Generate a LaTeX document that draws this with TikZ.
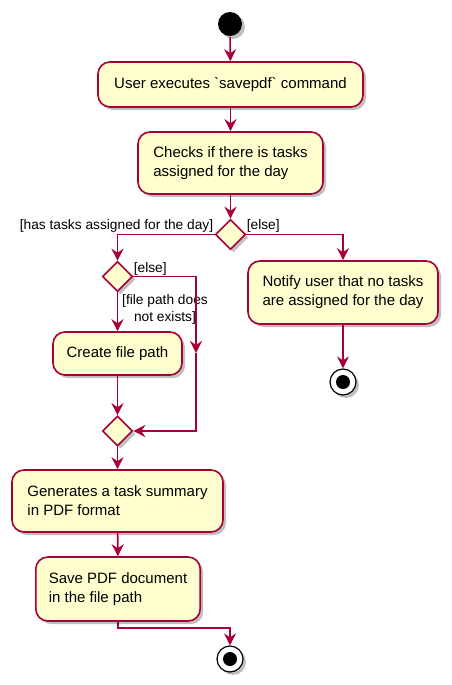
\documentclass[tikz,border=0pt]{standalone}
\usepackage{fontspec}
\setmainfont{Liberation Sans}
\newfontfamily\rawfont{Liberation Sans}
\usetikzlibrary{arrows.meta, shapes.geometric, shadows}
\definecolor{umlred}{HTML}{A80036}
\definecolor{umlfill}{HTML}{FEFECE}
\newcommand{\tick}{{\rawfont\char"60}}

\begin{document}
\begin{tikzpicture}[x=1pt, y=-1pt, line width=1.6pt,
    umlshadow/.style={drop shadow={shadow xshift=3pt, shadow yshift=-3pt, fill=black!50, opacity=0.5}},
    activity/.style={rectangle, rounded corners=12pt, draw=umlred, fill=umlfill,
        inner xsep=13pt, inner ysep=4pt, align=left, umlshadow,
        font=\fontsize{15}{19}\selectfont},
    choice/.style={diamond, aspect=1, draw=umlred, fill=umlfill, minimum width=30pt,
        minimum height=30pt, inner sep=0pt, umlshadow},
    finish/.style={circle, draw=black, fill=white, line width=1.2pt, minimum size=26pt,
        inner sep=0pt, umlshadow,
        path picture={\fill[black] (path picture bounding box.center) circle (7pt);}},
    guard/.style={inner sep=0pt, font=\fontsize{13.75}{17}\selectfont},
    flow/.style={draw=umlred, -{Stealth[length=12pt, width=12pt, inset=4pt]}}]
    \useasboundingbox (0,0) rectangle (451,685);

    \node[circle, fill=black, minimum size=24pt, inner sep=0pt, umlshadow] at (230, 24) (start) {};
    \node[activity, minimum width=265pt, minimum height=45pt] at (230.5, 84.5) (exec) {User executes \tick savepdf\tick{} command};
    \node[activity, minimum width=185pt, minimum height=62pt] at (230.5, 163) (check) {Checks if there is tasks\\assigned for the day};
    \node[choice] at (230.5, 234.5) (hastasks) {};
    \node[activity, align=center, minimum width=190pt, minimum height=63pt] at (343, 292.5) (notify) {Notify user that no tasks\\are assigned for the day};
    \node[finish] at (343, 382) (stopa) {};
    \node[choice] at (117.5, 276.5) (pathexists) {};
    \node[activity, minimum width=129pt, minimum height=43pt] at (117.5, 353.5) (create) {Create file path};
    \node[choice] at (117.5, 431) (merge) {};
    \node[activity, minimum width=211pt, minimum height=62pt] at (117.5, 501) (generate) {Generates a task summary\\in PDF format};
    \node[activity, minimum width=164pt, minimum height=64pt] at (118, 589) (save) {Save PDF document\\in the file path};
    \node[finish] at (230, 659) (stopb) {};
    \coordinate (skip) at (196, 353);

    \node[guard, anchor=east] at (214, 226) (yeslabel) {[has tasks assigned for the day]};
    \node[guard, anchor=west] at (246, 226) (nolabel) {[else]};
    \node[guard, anchor=west] at (133, 269) (elselabel) {[else]};
    \node[guard, align=center] at (165, 309.5) (missinglabel) {[file path does\\not exists]};

    \draw [flow] (start) -- (exec);
    \draw [flow] (exec) -- (check);
    \draw [flow] (check) -- (hastasks);
    \draw [flow] (hastasks.west) -| (pathexists.north);
    \draw [flow] (hastasks.east) -| (notify.north);
    \draw [flow] (notify) -- (stopa);
    \draw [flow] (pathexists) -- (create);
    \draw [flow] (pathexists.east) -| (skip);
    \draw [flow] (skip) |- (merge.east);
    \draw [flow] (create) -- (merge);
    \draw [flow] (merge) -- (generate);
    \draw [flow] (generate) -- (save);
    \draw [flow] (save.south) -- ++(0, 6) -| (stopb.north);
\end{tikzpicture}
\end{document}
